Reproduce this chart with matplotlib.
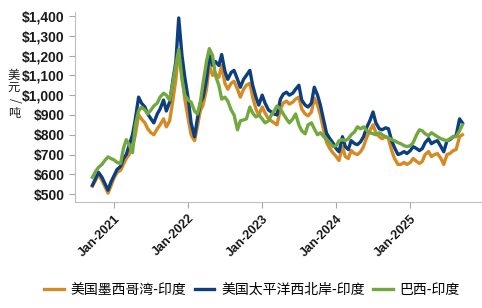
import pandas as pd
import matplotlib.pyplot as plt
import matplotlib.dates as mdates

plt.rcParams['font.family'] = ['Liberation Sans', 'Noto Sans CJK SC', 'DejaVu Sans']

# semi-monthly observations, Sep 2020 - Sep 2025
dates = pd.date_range('2020-09-01', '2025-09-30', freq='SMS')[1:122]

us_gulf = [540, 570, 600, 570, 540, 505, 540, 585, 610, 620,
           650, 680, 700, 740, 800, 900, 880, 860, 830, 810,
           800, 830, 850, 880, 840, 870, 960, 1080, 1230, 1100,
           980, 880, 800, 770, 840, 920, 950, 1030, 1150, 1100,
           1110, 1090, 1150, 1060, 1030, 1060, 1070, 1030, 990, 1030,
           1050, 1060, 990, 930, 900, 940, 910, 880, 870, 860,
           850, 930, 960, 970, 955, 965, 980, 990, 930, 905,
           895, 915, 985, 950, 900, 820, 760, 730, 710, 690,
           670, 740, 690, 680, 720, 705, 700, 715, 740, 790,
           820, 850, 810, 790, 780, 790, 780, 720, 680, 650,
           650, 660, 650, 660, 680, 665, 655, 665, 700, 715,
           690, 700, 705, 680, 650, 700, 705, 720, 725, 790,
           800]

us_pnw = [545, 580, 610, 585, 555, 520, 560, 596, 625, 640,
          680, 700, 745, 800, 880, 990, 960, 940, 905, 880,
          860, 905, 930, 975, 920, 965, 1060, 1170, 1390, 1200,
          1090, 980, 860, 790, 880, 960, 990, 1080, 1200, 1150,
          1170, 1150, 1205, 1120, 1080, 1115, 1125, 1080, 1040, 1080,
          1100, 1125, 1050, 990, 950, 1000, 960, 925, 915, 905,
          900, 980, 1005, 1015, 1000, 1010, 1030, 1050, 975, 950,
          940, 960, 1040, 1000, 950, 870, 806, 780, 760, 730,
          714, 790, 740, 725, 770, 755, 750, 765, 790, 840,
          870, 915, 860, 830, 825, 835, 830, 770, 735, 700,
          705, 715, 705, 720, 740, 730, 720, 730, 760, 780,
          755, 765, 770, 740, 714, 770, 775, 790, 795, 880,
          860]

brazil = [585, 615, 635, 650, 670, 688, 680, 672, 660, 655,
          730, 775, 750, 710, 850, 920, 940, 925, 905, 925,
          945, 960, 990, 1010, 1000, 975, 1050, 1150, 1230, 1080,
          1000, 975, 965, 920, 905, 960, 1060, 1170, 1235, 1200,
          1100, 1050, 980, 990, 970, 925, 900, 825, 870, 875,
          880, 940, 910, 890, 900, 880, 860, 870, 900, 920,
          945, 930, 905, 880, 860, 880, 905, 850, 820, 805,
          850, 860, 830, 800, 810, 790, 775, 760, 740, 745,
          770, 775, 770, 780, 800, 815, 840, 830, 840, 820,
          810, 805, 800, 810, 800, 790, 785, 775, 770, 760,
          755, 745, 740, 745, 760, 800, 825, 820, 805, 795,
          810, 800, 790, 780, 775, 770, 780, 790, 790, 820,
          850]

labels = ['美国墨西哥湾-印度', '美国太平洋西北岸-印度', '巴西-印度']
colors = ['#D68A24', '#0D3F7F', '#72A83E']
y_title = '美元/吨'

fig = plt.figure(figsize=(4.82, 3.08), dpi=100)
ax = fig.add_axes([0.156, 0.344, 0.842, 0.617])

for vals, lab, col in zip([us_gulf, us_pnw, brazil], labels, colors):
    ax.plot(dates, vals, color=col, lw=2.4, label=lab)

ax.set_xlim(pd.Timestamp('2020-06-22'), pd.Timestamp('2025-12-16'))
ax.set_ylim(460, 1420)
ax.set_yticks(range(500, 1401, 100))
ax.yaxis.set_major_formatter(plt.FuncFormatter(lambda v, p: f'${v:,.0f}'))
ax.xaxis.set_major_locator(mdates.YearLocator())
ax.xaxis.set_major_formatter(mdates.DateFormatter('%b-%Y'))

for lab in ax.get_yticklabels():
    lab.set_fontweight('bold')
    lab.set_fontsize(10)
for lab in ax.get_xticklabels():
    lab.set_fontweight('bold')
    lab.set_fontsize(9)
    lab.set_rotation(45)
    lab.set_ha('right')
    lab.set_rotation_mode('anchor')

ax.tick_params(colors='#A6A6A6', labelcolor='#1A1A1A', length=4, width=0.8)
for s in ['top', 'right']:
    ax.spines[s].set_visible(False)
for s in ['left', 'bottom']:
    ax.spines[s].set_color('#BFBFBF')
    ax.spines[s].set_linewidth(0.8)

# vertical (stacked) axis title
for k, ch in enumerate(y_title):
    fig.text(14 / 482, 1 - (75 + k * 12.7) / 308, ch, ha='center', va='center',
             fontsize=8.8, rotation=-90 if ch == '/' else 0, color='#1A1A1A',
             family=['Noto Sans CJK SC', 'DejaVu Sans'])

fig.legend(loc='center', bbox_to_anchor=(0.523, 0.058), ncol=3, frameon=False,
           prop={'family': ['Noto Sans CJK SC', 'DejaVu Sans'], 'size': 10},
           handlelength=1.4, handletextpad=0.5, columnspacing=0.6)

fig.savefig('out.png', dpi=100)
